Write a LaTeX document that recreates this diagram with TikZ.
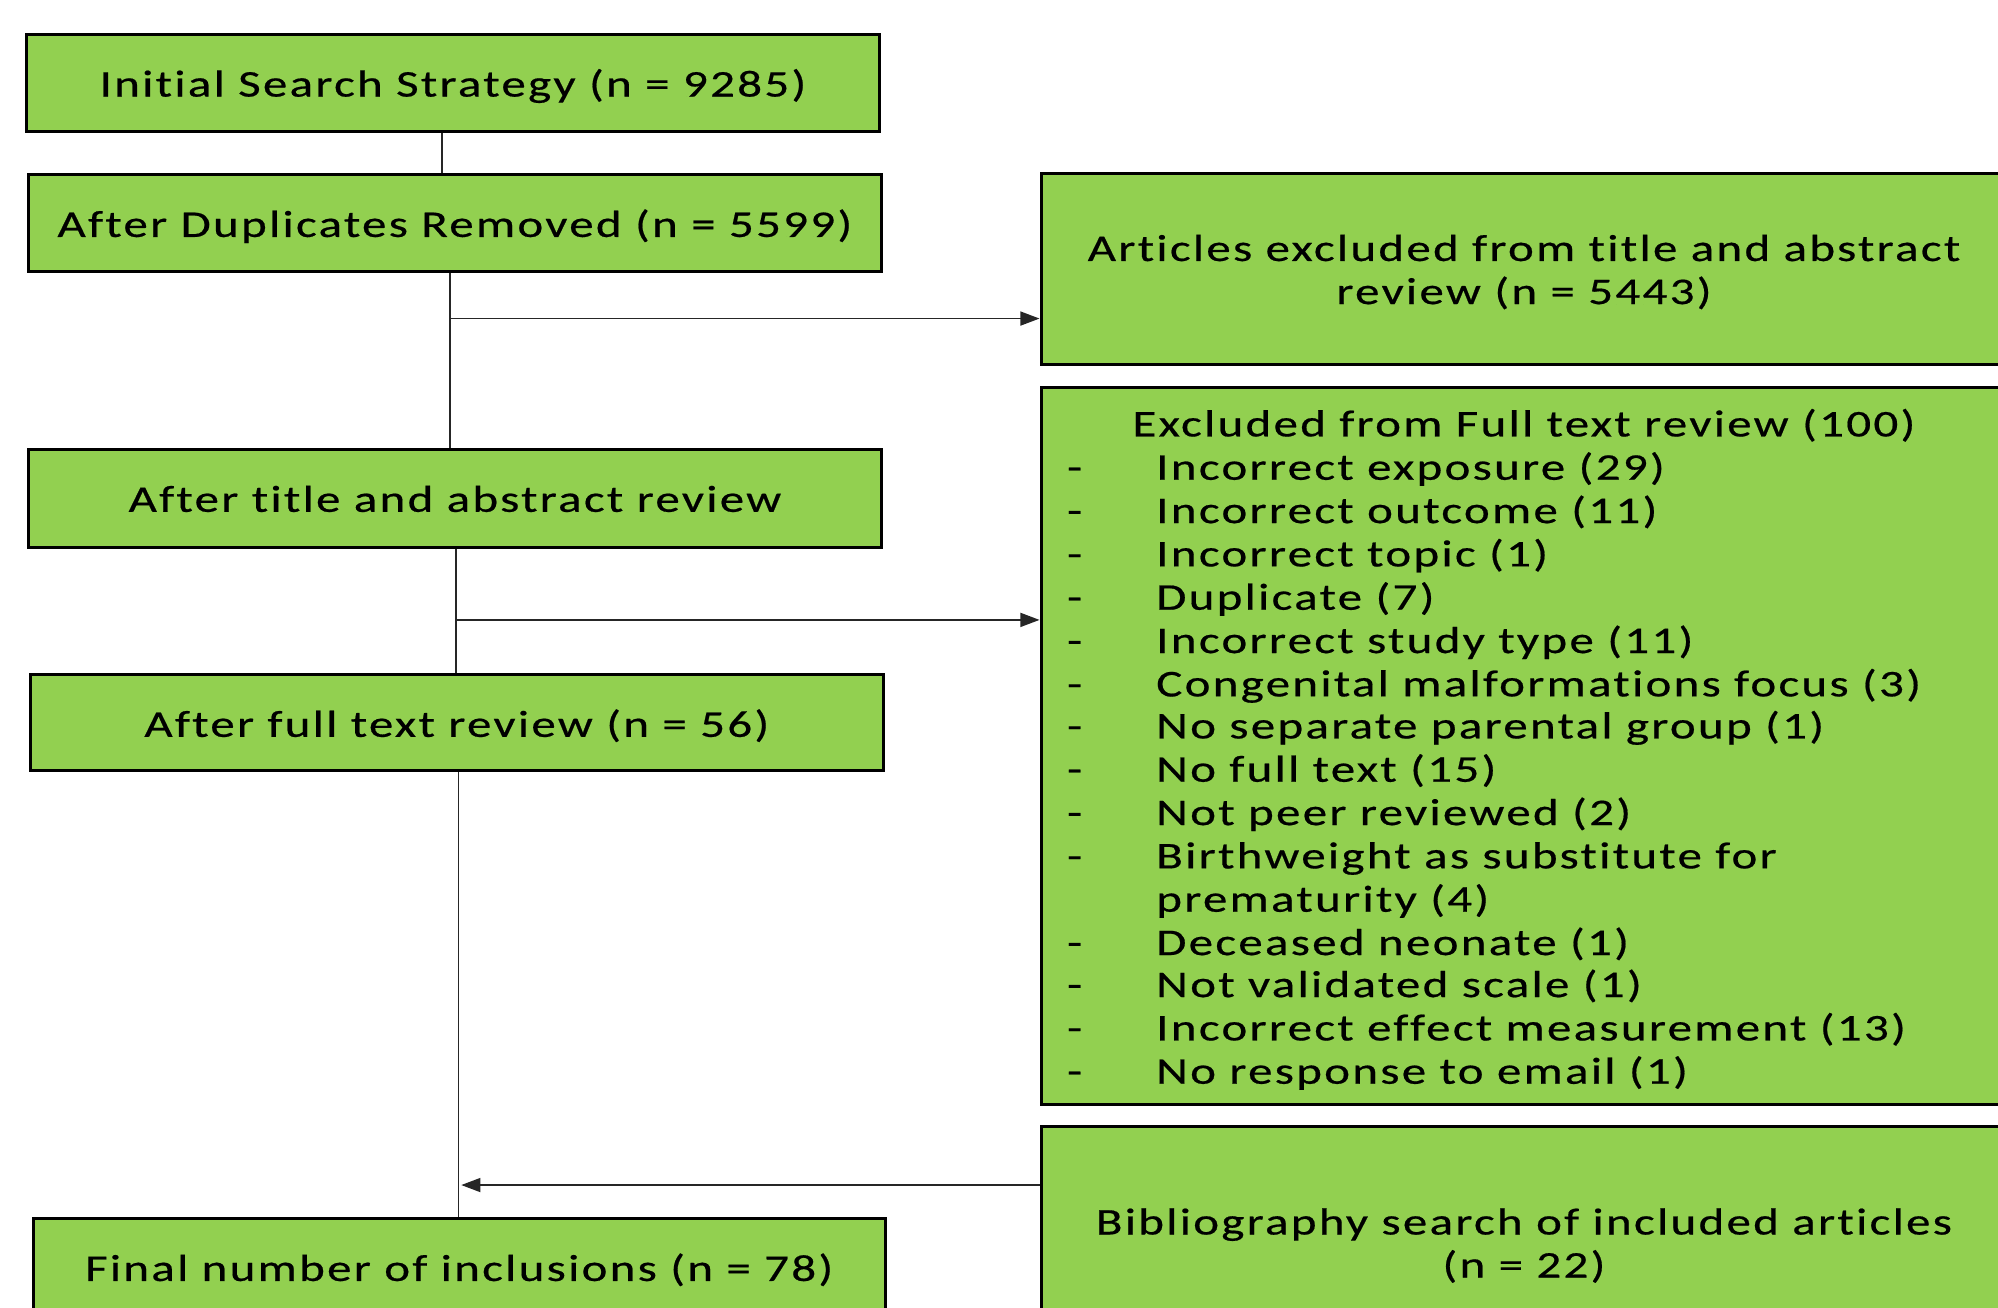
\documentclass[tikz,border=0pt]{standalone}
\usepackage{fontspec}
\setmainfont{Carlito}[FakeStretch=1.3, LetterSpace=6, Ligatures=NoCommon, FakeBold=0.5]
\usetikzlibrary{arrows.meta}
\definecolor{boxgreen}{HTML}{92D050}
\newcommand\boxfont{\fontsize{14.8pt}{16.9pt}\selectfont}
\newcommand\lowr[1]{\raisebox{-1.25pt}[\height][\depth]{#1}}
\begin{document}
\begin{tikzpicture}[x=0.5pt,y=-0.5pt,
  box/.style={draw=black, line width=1.2pt, fill=boxgreen, inner sep=0pt,
    align=center, font=\boxfont},
  lbox/.style={box, minimum width=334.5pt, minimum height=38pt},
  rbox/.style={box, minimum width=379pt},
  conn/.style={draw=black!85, line width=0.6pt},
  arr/.style={conn, -{Triangle[length=7.5pt,width=5.5pt]}},
  item/.style={anchor=west, inner sep=0pt, font=\boxfont, text height=0.75em, text depth=0.25em}]
\useasboundingbox (0,0) rectangle (1568,1026);
% left column
\node[lbox] (A) at (355.5,65) {\lowr{Initial Search Strategy (n = 9285)}};
\node[lbox] (B) at (357,175) {\lowr{After Duplicates Removed (n = 5599)}};
\node[lbox, minimum height=38.5pt] (C) at (357,391.5) {After title and abstract review};
\node[lbox] (D) at (358.5,567) {\lowr{After full text review (n = 56)}};
\node[lbox] (E) at (360.5,994) {\lowr{Final number of inclusions (n = 78)}};
% right column
\node[rbox, minimum height=75pt] (R1) at (1196,211) {\lowr{Articles excluded from title and abstract}\\\lowr{review (n = 5443)}};
\node[rbox, minimum height=281.5pt] (R2) at (1196,585.5) {};
\node[rbox, minimum height=91pt] (R3) at (1196,975) {\lowr{Bibliography search of included articles}\\\lowr{(n = 22)}};
% list in R2
\node[item, anchor=center] (T0) at (1196,337.5) {Excluded from Full text review (100)};
\foreach \t/\y [count=\i] in {Incorrect exposure (29)/366, Incorrect outcome (11)/400,
  Incorrect topic (1)/434, Duplicate (7)/468, Incorrect study type (11)/502,
  Congenital malformations focus (3)/536, No separate parental group (1)/569,
  No full text (15)/603, Not peer reviewed (2)/637, Birthweight as substitute for/671,
  Deceased neonate (1)/739, Not validated scale (1)/772,
  Incorrect effect measurement (13)/806, No response to email (1)/840}{
  \node[item] (d\i) at (837,\y+5.5) {-};
  \node[item] (t\i) at (907,\y+5.5) {\t};
}
\node[item] (t10b) at (907,710.5) {prematurity (4)};
% connectors
\coordinate (x1) at (347,0);
\coordinate (x2) at (353,250);
\coordinate (x3) at (358,486.5);
\coordinate (x4) at (360,930);
\draw[conn] (x1 |- A.south) -- (x1 |- B.north);
\draw[conn] (x2 |- B.south) -- (x2 |- C.north);
\draw[arr] (x2) -- (x2 -| R1.west);
\draw[conn] (x3 |- C.south) -- (x3 |- D.north);
\draw[arr] (x3) -- (x3 -| R2.west);
\draw[conn] (x4 |- D.south) -- (x4 |- E.north);
\coordinate (x5) at (362,930);
\draw[arr] (x5 -| R3.west) -- (x5);
\end{tikzpicture}
\end{document}
